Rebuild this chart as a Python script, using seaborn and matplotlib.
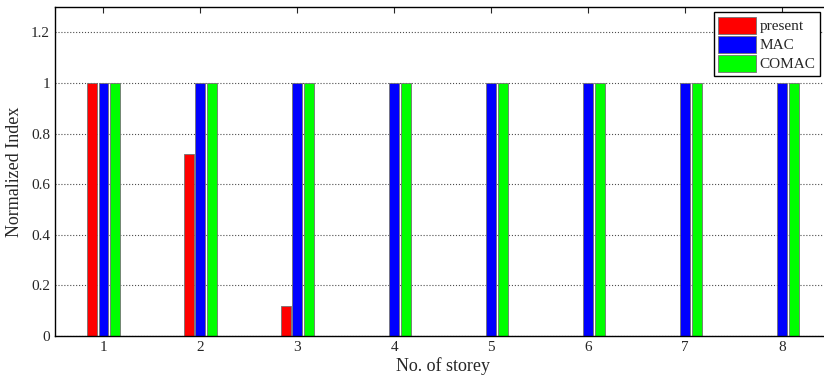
import pandas as pd
import matplotlib.pyplot as plt
import seaborn as sns

# values
storeys = ["1", "2", "3", "4", "5", "6", "7", "8"]
present = [1.0, 0.72, 0.12, 0, 0, 0, 0, 0]
mac = [1, 1, 1, 1, 1, 1, 1, 1]
comac = [1, 1, 1, 1, 1, 1, 1, 1]
methods = ["present", "MAC", "COMAC"]
colors = ["#ff0000", "#0000ff", "#00ff00"]

df = pd.DataFrame(
    {
        "storey": storeys * 3,
        "index": present + mac + comac,
        "method": [m for m in methods for _ in storeys],
    }
)

sns.set_style("white")
plt.rcParams["font.family"] = ["Liberation Serif", "DejaVu Serif"]
plt.rcParams["font.size"] = 11

fig = plt.figure(figsize=(8.24, 3.79), dpi=100)
# axes extends a bit past the right edge, like the cropped original
ax = fig.add_axes([55 / 824, 1 - 336 / 379, 775.5 / 824, 329 / 379])

sns.barplot(
    data=df,
    x="storey",
    y="index",
    hue="method",
    palette=colors,
    saturation=1,
    width=0.36,
    gap=0.15,
    edgecolor="0.45",
    linewidth=0.6,
    ax=ax,
)

ax.set_xlim(-0.5, 7.5)
ax.set_ylim(0, 1.3)
ax.set_yticks([0, 0.2, 0.4, 0.6, 0.8, 1.0, 1.2])
ax.set_yticklabels(["0", "0.2", "0.4", "0.6", "0.8", "1", "1.2"])
ax.yaxis.grid(True, linestyle=":", color="0.3", linewidth=0.8)
ax.set_axisbelow(True)
ax.tick_params(direction="in", top=True, right=True, length=4, width=0.8, labelsize=11)
for s in ax.spines.values():
    s.set_color("black")
    s.set_linewidth(1.0)

ax.set_xlabel("No. of storey", fontsize=13, labelpad=2)
ax.set_ylabel("Normalized Index", fontsize=13, labelpad=6)

ax.legend(
    loc="upper right",
    bbox_to_anchor=(820 / 824, 1 - 12 / 379),
    bbox_transform=fig.transFigure,
    fancybox=False,
    edgecolor="black",
    framealpha=1,
    fontsize=11,
    handlelength=2.5,
    handleheight=1.35,
    handletextpad=0.2,
    labelspacing=0.12,
    borderpad=0.3,
    borderaxespad=0,
)

fig.savefig("out.png", dpi=100)
